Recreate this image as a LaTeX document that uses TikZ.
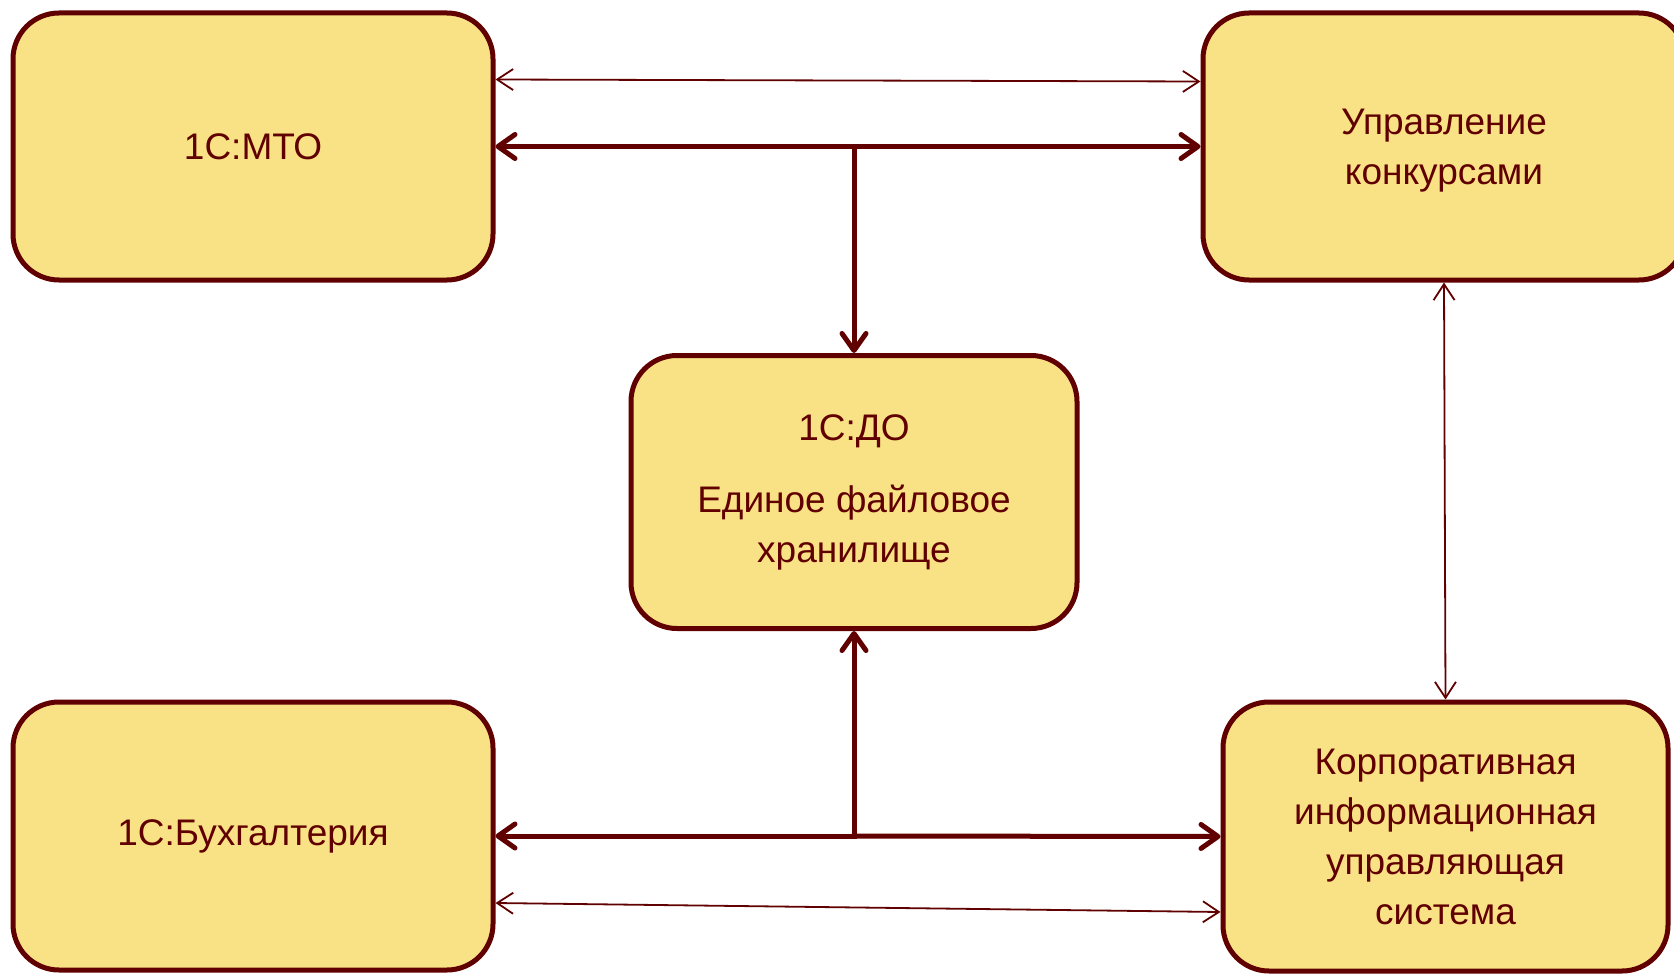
\documentclass[tikz,border=0pt]{standalone}
\usepackage{fontspec}
\setmainfont{Liberation Sans}
\usetikzlibrary{arrows.meta,calc}
\definecolor{maroon}{HTML}{600000}
\definecolor{boxfill}{HTML}{F9E285}
\tikzset{
  box/.style={draw=maroon, fill=boxfill, line width=5pt, rounded corners=46pt,
    inner sep=0pt, align=center, text=maroon,
    font=\fontsize{37pt}{50pt}\selectfont},
  thickarrow/.style={draw=maroon, line width=5pt,
    arrows={-Straight Barb[length=17pt,width=24pt,line cap=round,line join=round]}},
  thickboth/.style={draw=maroon, line width=5pt,
    arrows={Straight Barb[length=17pt,width=24pt,line cap=round,line join=round]-Straight Barb[length=17pt,width=24pt,line cap=round,line join=round]}},
  thinboth/.style={draw=maroon, line width=1.8pt,
    arrows={Straight Barb[length=16pt,width=21pt]-Straight Barb[length=16pt,width=21pt]}},
}
\begin{document}
\begin{tikzpicture}[x=1pt,y=-1pt]
\useasboundingbox (0,0) rectangle (1674,974);
\node[box, minimum width=480pt, minimum height=267pt] (mto) at (253,146.5) {1С:МТО};
\node[box, minimum width=482pt, minimum height=267pt] (uk) at (1444,146.5) {\rule{0pt}{34pt}Управление\\конкурсами};
\node[box, minimum width=446pt, minimum height=273pt] (do) at (854,492) {1С:ДО\\[22pt]Единое файловое\\хранилище};
\node[box, minimum width=480pt, minimum height=268pt] (bux) at (253,836) {1С:Бухгалтерия};
\node[box, minimum width=445pt, minimum height=269pt] (kius) at (1445.5,836.5) {Корпоративная\\информационная\\управляющая\\система};
\coordinate (j1) at (854,149);
\coordinate (j2) at (854,836);
% top connectors
\draw[thinboth] ([yshift=-69pt]mto.north east) -- ([yshift=-71pt]uk.north west);
\draw[thickboth] ([yshift=-136pt]mto.north east) -- ([yshift=-136pt]uk.north west);
\draw[thickarrow] ([yshift=2.5pt]j1) -- (do.north);
% right vertical
\draw[thinboth] (uk.south) -- (kius.north);
% bottom connectors
\draw[thickarrow] ([yshift=-2.5pt]j2) -- (do.south);
\draw[thickarrow] ([xshift=2.5pt]j2) -- (bux.east);
\draw[thickarrow] ([xshift=-2.5pt]j2) -- (kius.west);
\draw[thinboth] ([yshift=-67pt]bux.east) -- ([yshift=-75.5pt]kius.west);
\end{tikzpicture}
\end{document}
